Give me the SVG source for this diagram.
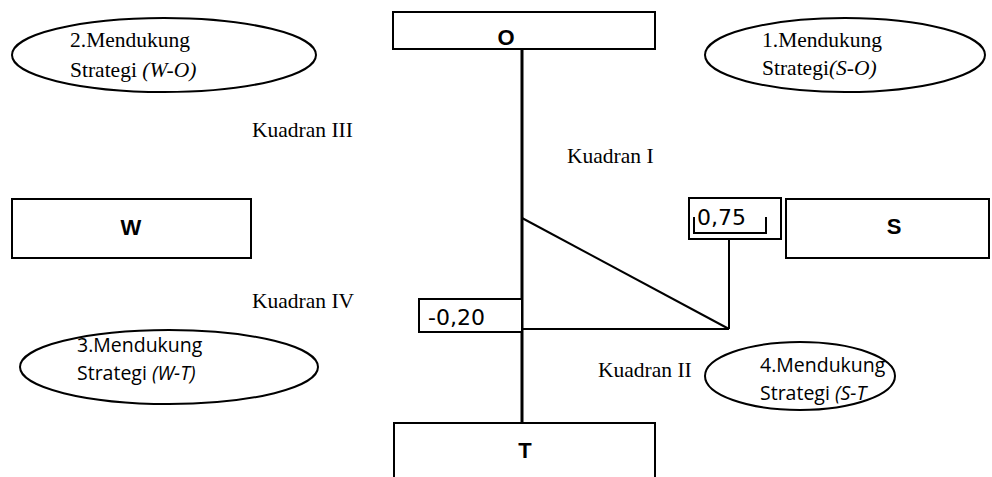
<svg xmlns="http://www.w3.org/2000/svg" width="992" height="477" viewBox="0 0 992 477">
<style>
.box{fill:#fff;stroke:#000;stroke-width:2}
.ell{fill:#fff;stroke:#000;stroke-width:2}
.ser{font-family:"Liberation Serif",serif;font-size:21.5px;fill:#000}
.cal{font-family:"Open Sans","Liberation Sans",sans-serif;font-size:19.5px;fill:#000}
.big{font-family:"Liberation Sans",Arial,sans-serif;font-size:22px;font-weight:bold;fill:#000;text-anchor:middle}
.num{font-family:"DejaVu Sans",sans-serif;font-size:22px;fill:#000}
.ln{stroke:#000;stroke-width:2;fill:none}
</style>
<rect width="992" height="477" fill="#fff"/>
<g id="connectors">
<line x1="522" y1="49" x2="522" y2="423" stroke="#000" stroke-width="3"/>
<line class="ln" x1="522" y1="218" x2="729" y2="329"/>
<line class="ln" x1="522" y1="329" x2="729" y2="329"/>
<line class="ln" x1="729" y1="233" x2="729" y2="329"/>
</g>
<g id="node-O"><rect class="box" x="393" y="12" width="262" height="37"/><text class="big" x="506" y="45">O</text></g>
<g id="node-W"><rect class="box" x="12" y="199" width="239" height="59"/><text class="big" x="131" y="235">W</text></g>
<g id="node-S"><rect class="box" x="786" y="199" width="203" height="59"/><text class="big" x="894" y="234">S</text></g>
<g id="node-T"><rect class="box" x="394" y="423" width="261" height="60"/><text class="big" x="525" y="458">T</text></g>
<g id="node-075"><rect class="box" x="689" y="198" width="92" height="41"/><text class="num" x="697" y="225">0,75</text><path class="ln" d="M694 217V233H766V217"/></g>
<g id="node-020"><rect class="box" x="419" y="299" width="103" height="33"/><text class="num" x="428" y="325">-0,20</text></g>
<g id="ellipse-WO"><ellipse class="ell" cx="164" cy="55" rx="152" ry="37"/><text class="ser" x="70" y="47">2.Mendukung</text><text class="ser" x="70" y="77">Strategi <tspan font-style="italic">(W-O)</tspan></text></g>
<g id="ellipse-SO"><ellipse class="ell" cx="845" cy="55" rx="140" ry="37"/><text class="ser" x="762" y="47">1.Mendukung</text><text class="ser" x="762" y="75">Strategi<tspan font-style="italic">(S-O)</tspan></text></g>
<g id="ellipse-WT"><ellipse class="ell" cx="169" cy="367" rx="149" ry="37"/><text class="cal" x="77" y="352">3.Mendukung</text><text class="cal" x="77" y="380">Strategi <tspan font-style="italic">(W-T)</tspan></text></g>
<g id="ellipse-ST"><ellipse class="ell" cx="800" cy="376" rx="95" ry="34"/><text class="cal" x="760" y="372">4.Mendukung</text><text class="cal" x="760" y="400">Strategi <tspan font-style="italic">(S-T</tspan></text></g>
<g id="labels">
<text class="ser" x="252" y="137">Kuadran III</text>
<text class="ser" x="567" y="163">Kuadran I</text>
<text class="ser" x="252" y="308">Kuadran IV</text>
<text class="ser" x="598" y="377">Kuadran II</text>
</g>
</svg>
